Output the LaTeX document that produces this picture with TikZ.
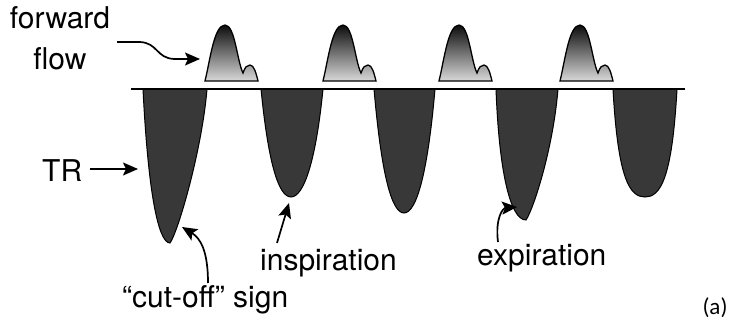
\documentclass[tikz,border=0pt]{standalone}
\usepackage{fontspec}
\setmainfont{TeX Gyre Heros}
\newfontfamily\capfont{Carlito}
\usetikzlibrary{arrows.meta}
\begin{document}
\begin{tikzpicture}[x=1pt,y=-1pt,
  lbl/.style={font=\fontsize{30}{41}\selectfont, inner sep=0pt},
  ptr/.style={line width=1.7pt, -{Stealth[length=15pt,width=13pt,inset=3pt]}},
  trough/.style={draw=black, line width=1pt, fill=black!78},
  bump/.style={draw=black, line width=1.3pt, top color=black!95, middle color=black!62, bottom color=black!15},
  axisline/.style={line width=2pt}]
\useasboundingbox (0,0) rectangle (742,326);

% troughs (TR)
\path[trough] (143,89) .. controls (148,190) and (158,243) .. (170,243)
   .. controls (178,232) and (202,150) .. (207,89) -- cycle;
\path[trough] (261,89) .. controls (268,160) and (278,197) .. (291,197)
   .. controls (304,197) and (316,160) .. (323,89) -- cycle;
\path[trough] (374,89) .. controls (381,170) and (391,213) .. (404,213)
   .. controls (417,213) and (428,170) .. (435,89) -- cycle;
\path[trough] (496,89) .. controls (499,170) and (510,220) .. (526,220)
   .. controls (533,210) and (553,150) .. (558,89) -- cycle;
\path[trough] (613,89) .. controls (618,180) and (630,197) .. (645,197)
   .. controls (660,197) and (672,180) .. (677,89) -- cycle;

% forward flow bumps
\foreach \s in {205,323,439,560}{
  \path[bump, shift={(\s,81)}] (0,0) .. controls (5,-20) and (9,-56) .. (20,-56)
     .. controls (30,-56) and (32,-20) .. (38,-8)
     .. controls (40,-14) and (42,-16) .. (45,-16)
     .. controls (49,-16) and (51,-8) .. (53,0) -- cycle;
}

% baseline
\draw[axisline] (131,89) -- (685,89);

% labels
\node[lbl, align=center, anchor=north] (ff) at (60,6) {forward\\flow};
\node[lbl, anchor=base west] (tr) at (42,182) {TR};
\node[lbl, anchor=base west] (insp) at (260,270) {inspiration};
\node[lbl, anchor=base west] (expi) at (477,265) {expiration};
\node[lbl, anchor=base west] (cut) at (122,307) {“cut-off” sign};
\node[font=\capfont\fontsize{23}{28}\selectfont, inner sep=0pt] (lab) at (715,308) {(a)};

% arrow end points
\coordinate (ffs) at (117,42);
\coordinate (ffe) at (200,59);
\coordinate (trs) at (90,169);
\coordinate (tre) at (138,169);
\coordinate (cuts) at (208,283);
\coordinate (cute) at (182,227);
\coordinate (insps) at (277,243);
\coordinate (inspe) at (289,203);
\coordinate (exps) at (498,242);
\coordinate (expe) at (517,207);

% arrows
\draw[ptr] (ffs) -- (140,42) .. controls (158,43) and (156,58) .. (174,59) -- (ffe);
\draw[ptr] (trs) -- (tre);
\draw[ptr] (cuts) .. controls (208,250) and (200,238) .. (cute);
\draw[ptr] (insps) -- (inspe);
\draw[ptr] (exps) .. controls (495,218) and (503,208) .. (expe);
\end{tikzpicture}
\end{document}
